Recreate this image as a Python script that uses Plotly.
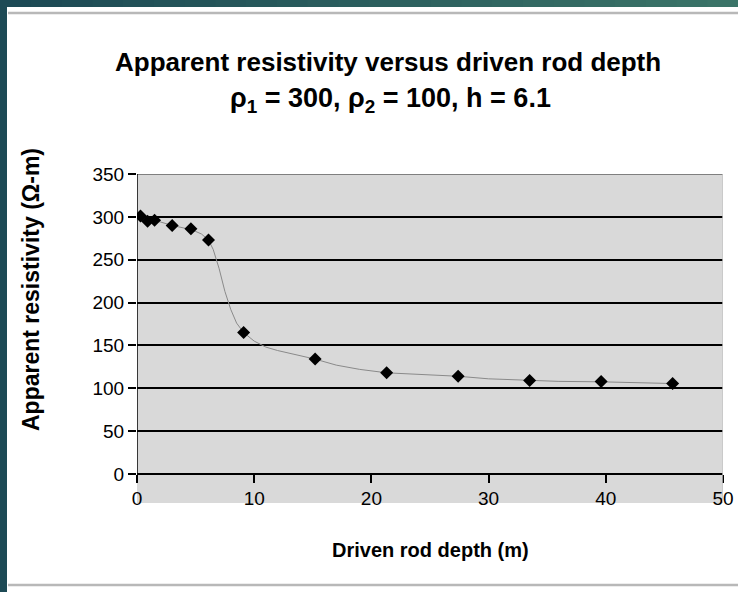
import plotly.graph_objects as go

# Measured points (driven rod depth in m, apparent resistivity in ohm-m)
depth_pts = [0.3, 0.9, 1.5, 3.0, 4.6, 6.1, 9.1, 15.2, 21.3, 27.4, 33.5, 39.6, 45.7]
rho_pts = [301, 295, 296, 290, 286, 273, 165, 134, 118, 114, 109, 108, 105.5]

# Theoretical curve
depth_curve = [0.3, 1, 2, 3, 4, 5, 5.5, 6.1, 6.5, 7, 7.5, 8, 8.5, 9.1, 10, 11, 12, 13, 14,
               15.2, 17, 19, 21.3, 24, 27.4, 30, 33.5, 36, 39.6, 42, 45.7]
rho_curve = [301, 297, 294, 290, 287, 283, 280, 273, 262, 240, 213, 192, 176, 165, 155, 148,
             144, 141, 138, 134, 127, 122, 118, 116, 114, 111, 109, 108, 107.5, 106.5, 105.5]

x_ticks = [0, 10, 20, 30, 40, 50]
y_ticks = [0, 50, 100, 150, 200, 250, 300, 350]

title_line1 = "Apparent resistivity versus driven rod depth"
title_line2 = "ρ<sub>1</sub> = 300, ρ<sub>2</sub> = 100, h = 6.1"
x_title = "Driven rod depth (m)"
y_title = "Apparent resistivity (Ω-m)"

W, H = 738, 592
L, R, T, B = 137, 15, 174, 89
PW = W - L - R
PH = H - T - B
Y_MIN, Y_MAX = -33.9, 350
FONT = "Liberation Sans, Arial, sans-serif"


def px(xpix):
    return (xpix - L) / PW


def py(ypix):
    return (H - B - ypix) / PH


fig = go.Figure()
fig.add_trace(go.Scatter(x=depth_curve, y=rho_curve, mode="lines",
                         line=dict(color="#8a8a8a", width=1), hoverinfo="skip",
                         showlegend=False))
fig.add_trace(go.Scatter(x=depth_pts, y=rho_pts, mode="markers",
                         marker=dict(symbol="diamond", size=10, color="black"),
                         showlegend=False))

shapes = []
shapes.append(dict(type="line", xref="x", yref="y", x0=0, x1=50, y0=Y_MAX, y1=Y_MAX,
                   line=dict(color="#7f7f7f", width=2), layer="above"))
shapes.append(dict(type="line", xref="x", yref="y", x0=50, x1=50, y0=Y_MIN, y1=Y_MAX,
                   line=dict(color="#c4c4c4", width=1.5), layer="above"))
shapes.append(dict(type="line", xref="x", yref="y", x0=0, x1=0, y0=0, y1=Y_MAX,
                   line=dict(color="black", width=1.5), layer="above"))
shapes.append(dict(type="rect", xref="paper", yref="paper", x0=px(0), x1=px(7),
                   y0=py(H), y1=py(0), fillcolor="#1d4a55", line=dict(width=0), layer="below"))
n_seg = 24
for i in range(n_seg):
    t = i / (n_seg - 1)
    r = int(0x1d + (0x3b - 0x1d) * t)
    g = int(0x4a + (0x74 - 0x4a) * t)
    b = int(0x55 + (0x68 - 0x55) * t)
    shapes.append(dict(type="rect", xref="paper", yref="paper",
                       x0=px(W * i / n_seg), x1=px(W * (i + 1) / n_seg + 1),
                       y0=py(7), y1=py(0), fillcolor=f"rgb({r},{g},{b})",
                       line=dict(width=0), layer="below"))
shapes.append(dict(type="line", xref="paper", yref="paper", x0=px(8), x1=px(W),
                   y0=py(13), y1=py(13), line=dict(color="#b8b8b8", width=2.5), layer="below"))
shapes.append(dict(type="line", xref="paper", yref="paper", x0=px(8), x1=px(W),
                   y0=py(585), y1=py(585), line=dict(color="#b8b8b8", width=2.5), layer="below"))

annotations = [
    dict(text=f"<b>{title_line1}</b>", xref="paper", yref="paper", x=px(388), y=py(62),
         xanchor="center", yanchor="middle", showarrow=False,
         font=dict(family=FONT, size=26, color="black")),
    dict(text=f"<b>{title_line2}</b>", xref="paper", yref="paper", x=px(390), y=py(100),
         xanchor="center", yanchor="middle", showarrow=False,
         font=dict(family=FONT, size=27, color="black")),
    dict(text=f"<b>{x_title}</b>", xref="paper", yref="paper", x=px(430), y=py(550),
         xanchor="center", yanchor="middle", showarrow=False,
         font=dict(family=FONT, size=20, color="black")),
    dict(text=f"<b>{y_title}</b>", xref="paper", yref="paper", x=px(31), y=py(290),
         xanchor="center", yanchor="middle", showarrow=False, textangle=-90,
         font=dict(family=FONT, size=23, color="black")),
]

fig.update_layout(
    width=W, height=H,
    margin=dict(l=L, r=R, t=T, b=B, pad=0, autoexpand=False),
    paper_bgcolor="white",
    plot_bgcolor="#d9d9d9",
    shapes=shapes,
    annotations=annotations,
    font=dict(family=FONT, size=19, color="black"),
    xaxis=dict(range=[0, 50], tickvals=x_ticks, showgrid=False, zeroline=False,
               showline=True, linecolor="black", linewidth=1.5, automargin=False,
               ticks="outside", ticklen=8, tickwidth=1.5, tickcolor="black",
               anchor="free", position=(0 - Y_MIN) / (Y_MAX - Y_MIN),
               tickfont=dict(family=FONT, size=19, color="black")),
    yaxis=dict(range=[Y_MIN, Y_MAX], tickvals=y_ticks, showgrid=True, gridcolor="black",
               gridwidth=1.5, zeroline=False, showline=False, automargin=False,
               ticks="outside", ticklen=8, tickwidth=1.5, tickcolor="black",
               tickfont=dict(family=FONT, size=19, color="black")),
)

fig.write_html("out.html")
